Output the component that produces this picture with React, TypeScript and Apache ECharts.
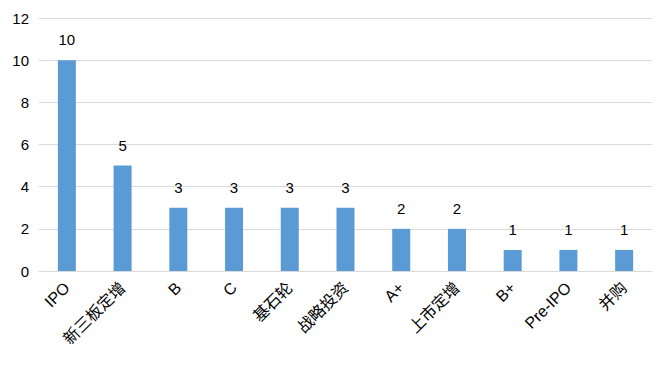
import React, { useEffect, useRef } from "react";
import * as echarts from "echarts";

const categories = ["IPO", "新三板定增", "B", "C", "基石轮", "战略投资", "A+", "上市定增", "B+", "Pre-IPO", "并购"];
const values = [10, 5, 3, 3, 3, 3, 2, 2, 1, 1, 1];
const yTicks = { min: 0, max: 12, interval: 2 };

export default function App() {
  const ref = useRef<HTMLDivElement>(null);
  useEffect(() => {
    const chart = echarts.init(ref.current!, null, { renderer: "svg" });
    const font = "'Liberation Sans', 'Noto Sans CJK SC', sans-serif";
    chart.setOption({
      animation: false,
      backgroundColor: "#ffffff",
      grid: { left: 39, right: 20, top: 18, bottom: 98, containLabel: false },
      xAxis: {
        type: "category",
        data: categories,
        axisLine: { lineStyle: { color: "#d9d9d9", width: 1 } },
        axisTick: { show: false },
        axisLabel: {
          interval: 0,
          rotate: 45,
          color: "#000000",
          fontSize: 16,
          fontFamily: font,
          margin: 14,
        },
      },
      yAxis: {
        type: "value",
        min: yTicks.min,
        max: yTicks.max,
        interval: yTicks.interval,
        axisLine: { show: false },
        axisTick: { show: false },
        splitLine: { lineStyle: { color: "#d9d9d9", width: 1 } },
        axisLabel: { color: "#000000", fontSize: 15, fontFamily: font, margin: 10 },
      },
      series: [
        {
          type: "bar",
          data: values,
          barWidth: 18,
          itemStyle: { color: "#5b9bd5" },
          label: {
            show: true,
            position: "top",
            distance: 13,
            color: "#000000",
            fontSize: 15,
            fontFamily: font,
          },
        },
      ],
    });
    return () => chart.dispose();
  }, []);
  return <div ref={ref} style={{ width: 672, height: 369, position: "absolute", left: 0, top: 0 }} />;
}
